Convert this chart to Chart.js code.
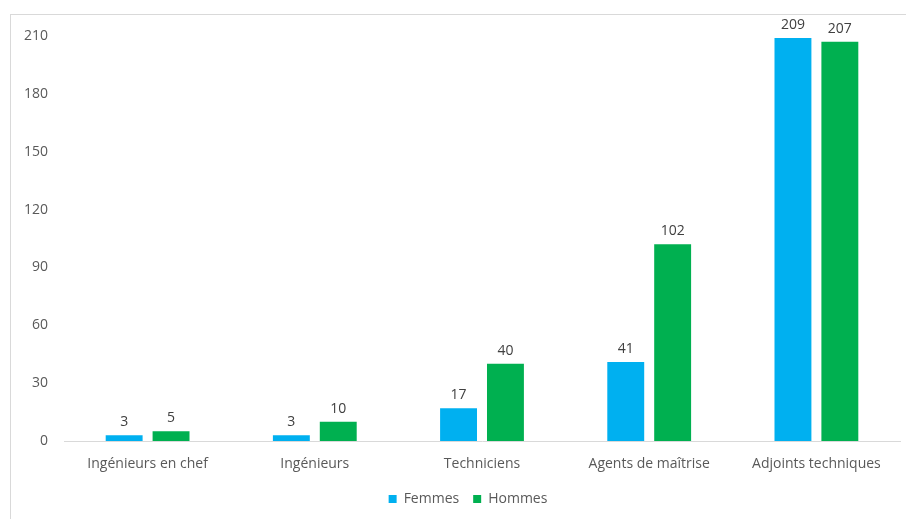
<!DOCTYPE html>
<html>
<head>
<meta charset="utf-8">
<script src="https://cdn.jsdelivr.net/npm/chart.js@4"></script>
<style>
  body { margin: 0; background: #fff; }
  #wrap { position: relative; width: 906px; height: 519px; overflow: hidden; }
  #frame { position: absolute; left: 10px; top: 14px; width: 1000px; height: 600px; border: 1px solid #d9d9d9; }
  canvas { position: absolute; left: 0; top: 0; }
</style>
</head>
<body>
<div id="wrap">
  <div id="frame"></div>
  <canvas id="effectifs" width="906" height="519"></canvas>
</div>
<script>
const categories = ['Ingénieurs en chef', 'Ingénieurs', 'Techniciens', 'Agents de maîtrise', 'Adjoints techniques'];
const femmes = [3, 3, 17, 41, 209];
const hommes = [5, 10, 40, 102, 207];
const yTicks = [0, 30, 60, 90, 120, 150, 180, 210];

const FONT = 'Open Sans';

// writes each bar's value just above it
const valueLabels = {
    id: 'valueLabels',
    afterDatasetsDraw(chart) {
        const ctx = chart.ctx;
        ctx.save();
        ctx.font = '14px "' + FONT + '"';
        ctx.fillStyle = '#404040';
        ctx.textAlign = 'center';
        ctx.textBaseline = 'bottom';
        chart.data.datasets.forEach((ds, i) => {
            chart.getDatasetMeta(i).data.forEach((bar, j) => {
                ctx.fillText(ds.data[j], bar.x, bar.y - 6);
            });
        });
        ctx.restore();
    }
};

// nudge the legend a bit to the right
const legendShift = {
    id: 'legendShift',
    afterLayout(chart) {
        chart.legend.left += 18;
        chart.legend.right += 18;
    }
};

new Chart(document.getElementById('effectifs').getContext('2d'), {
    type: 'bar',
    data: {
        labels: categories,
        datasets: [{
            label: 'Femmes',
            data: femmes,
            backgroundColor: '#00b0f0',
            barPercentage: 0.787,
            categoryPercentage: 0.561
        }, {
            label: 'Hommes',
            data: hommes,
            backgroundColor: '#00b050',
            barPercentage: 0.787,
            categoryPercentage: 0.561
        }]
    },
    options: {
        responsive: false,
        animation: false,
        devicePixelRatio: 1,
        layout: { padding: { left: 0, right: 6, top: 36, bottom: 3 } },
        plugins: {
            tooltip: { enabled: false },
            legend: {
                position: 'bottom',
                labels: {
                    boxWidth: 8,
                    boxHeight: 8,
                    padding: 14,
                    color: '#595959',
                    font: { family: FONT, size: 14 }
                }
            }
        },
        scales: {
            x: {
                afterFit(scale) { scale.height = 37; },
                grid: { display: false },
                border: { display: true, color: '#d9d9d9' },
                ticks: {
                    color: '#595959',
                    padding: 7,
                    font: { family: FONT, size: 14 }
                }
            },
            y: {
                min: 0,
                max: 210,
                afterFit(scale) { scale.width = 64; },
                afterBuildTicks(scale) { scale.ticks = yTicks.map(v => ({ value: v })); },
                grid: { display: false },
                border: { display: false },
                ticks: {
                    color: '#595959',
                    padding: 8,
                    font: { family: FONT, size: 14 }
                }
            }
        }
    },
    plugins: [valueLabels, legendShift]
});
</script>
</body>
</html>
